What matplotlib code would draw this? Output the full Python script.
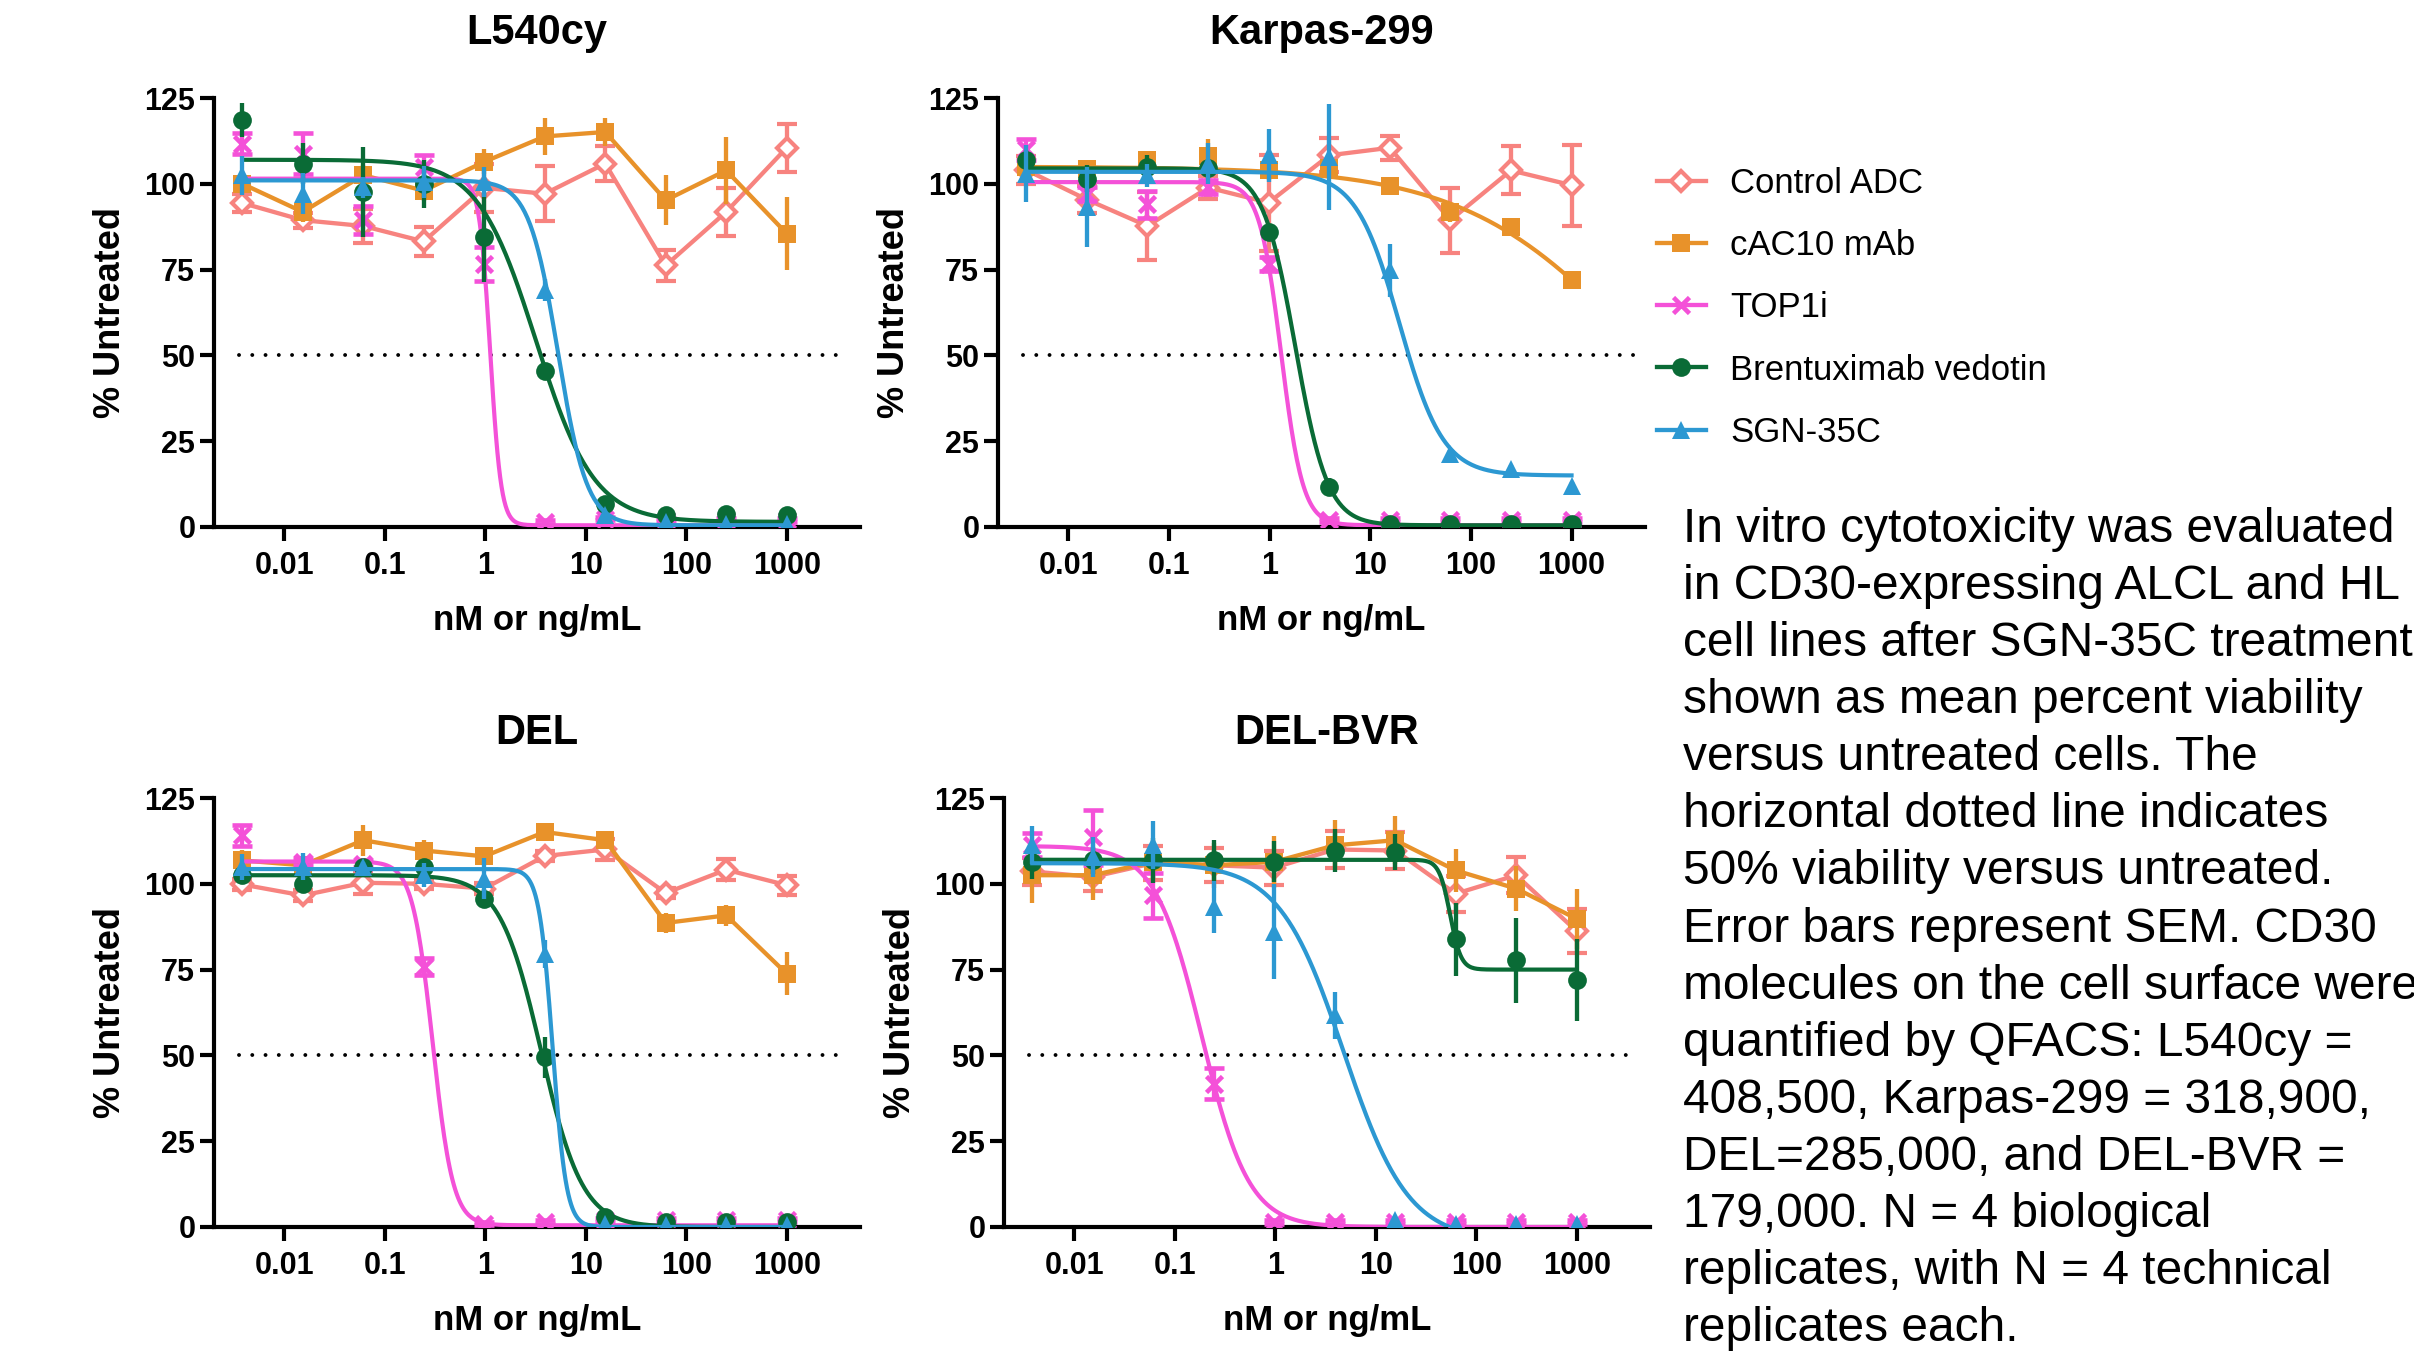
import numpy as np
import matplotlib
matplotlib.use('Agg')
import matplotlib.pyplot as plt
from matplotlib.lines import Line2D

plt.rcParams['font.family'] = ['Liberation Sans', 'DejaVu Sans']

# ---------------- data ----------------
conc = [0.003815, 0.01526, 0.06104, 0.2441, 0.9766, 3.906, 15.63, 62.5, 250.0, 1000.0]
x_tick_values = [0.01, 0.1, 1, 10, 100, 1000]
x_tick_labels = ['0.01', '0.1', '1', '10', '100', '1000']
y_tick_values = [0, 25, 50, 75, 100, 125]
threshold = 50

series_names = ['Control ADC', 'cAC10 mAb', 'TOP1i', 'Brentuximab vedotin', 'SGN-35C']
series_colors = ['#F7837F', '#E8922A', '#F451D8', '#0A6B36', '#2C98D2']
panel_titles = ['L540cy', 'Karpas-299', 'DEL', 'DEL-BVR']

# L540cy
l540_ctrl = [94.4, 89.4, 87.7, 83.2, 98.8, 97.1, 105.9, 76.2, 91.8, 110.5]
l540_ctrl_sem = [2.7, 2.2, 5.0, 4.3, 7.0, 8.0, 5.0, 4.4, 7.0, 7.0]
l540_cac10 = [100.0, 91.8, 102.5, 98.0, 106.4, 113.8, 115.1, 95.2, 103.9, 85.5]
l540_cac10_sem = [3.0, 3.0, 3.0, 3.0, 3.6, 5.4, 4.0, 7.3, 9.8, 10.7]
l540_top1i = [111.7, 108.8, 89.4, 104.9, 76.7, 1.5, 2.4, 2.0, 2.0, 2.0]
l540_top1i_sem = [3.0, 6.0, 4.0, 3.5, 5.0, 0.5, 0.5, 0.5, 0.5, 0.5]
l540_bv = [118.5, 105.9, 97.6, 100.0, 84.5, 45.6, 6.8, 3.4, 3.7, 3.4]
l540_bv_sem = [4.9, 6.0, 13.0, 7.0, 13.0, 1.0, 1.0, 0.5, 0.5, 0.5]
l540_sgn = [102.5, 97.1, 99.0, 100.5, 100.5, 69.0, 3.4, 1.5, 1.0, 1.0]
l540_sgn_sem = [5.7, 6.0, 3.0, 4.6, 4.4, 3.2, 0.5, 0.5, 0.5, 0.5]
# fitted 4PL parameters (top, bottom, IC50, hill); None = points joined by lines
l540_fits = [None, None, [101.5, 0.5, 1.12, 8.0], [107.0, 1.5, 3.2, 1.5], [101.0, 0.5, 5.3, 3.0]]

# Karpas-299
kar_ctrl = [104.0, 95.4, 87.7, 98.9, 94.5, 108.3, 110.5, 89.4, 103.9, 99.6]
kar_ctrl_sem = [4.0, 4.0, 10.0, 3.4, 14.0, 5.0, 3.5, 9.5, 7.0, 11.8]
kar_cac10 = [104.9, 104.4, 107.0, 108.0, 104.0, 104.5, 99.3, 91.8, 87.4, 71.9]
kar_cac10_sem = [2.0, 2.0, 2.5, 5.0, 3.0, 2.0, 1.0, 3.0, 1.5, 1.5]
kar_top1i = [110.0, 97.0, 94.0, 99.0, 76.7, 2.0, 2.0, 2.0, 2.0, 2.0]
kar_top1i_sem = [3.0, 2.0, 4.0, 2.0, 2.0, 0.5, 0.5, 0.5, 0.5, 0.5]
kar_bv = [106.8, 101.5, 104.9, 104.5, 86.0, 11.7, 1.0, 1.0, 1.0, 1.0]
kar_bv_sem = [3.0, 4.0, 3.5, 2.0, 2.0, 2.7, 0.5, 0.5, 0.5, 0.5]
kar_sgn = [103.0, 93.2, 102.5, 105.9, 108.3, 107.8, 74.8, 21.4, 17.0, 12.0]
kar_sgn_sem = [8.3, 11.7, 3.4, 6.0, 7.8, 15.5, 7.8, 1.0, 1.0, 1.0]
kar_fits = [None, [105.0, 0.0, 4770.0, 0.5], [100.5, 0.5, 1.3, 4.0], [104.5, 0.5, 1.8, 2.7], [103.5, 15.0, 19.5, 2.0]]

# DEL
del_ctrl = [99.8, 96.6, 100.3, 100.0, 98.6, 108.1, 110.0, 97.3, 104.1, 99.6]
del_ctrl_sem = [1.5, 1.5, 3.4, 1.5, 1.5, 1.5, 3.0, 1.5, 3.0, 2.8]
del_cac10 = [106.8, 105.4, 112.7, 109.7, 108.0, 115.1, 112.7, 88.6, 90.8, 73.8]
del_cac10_sem = [3.0, 2.0, 4.5, 3.0, 2.0, 2.5, 2.5, 3.0, 3.0, 6.2]
del_top1i = [114.1, 106.4, 105.9, 75.8, 1.0, 1.5, 2.0, 2.0, 2.0, 2.0]
del_top1i_sem = [3.0, 1.0, 1.0, 2.5, 0.5, 0.5, 0.5, 0.5, 0.5, 0.5]
del_bv = [102.5, 100.0, 104.9, 104.9, 95.7, 49.5, 2.9, 1.5, 1.5, 1.5]
del_bv_sem = [1.5, 2.0, 1.5, 1.5, 2.7, 6.0, 1.0, 0.5, 0.5, 0.5]
del_sgn = [104.9, 105.0, 104.9, 102.5, 101.5, 79.6, 1.0, 0.5, 0.7, 0.7]
del_sgn_sem = [3.8, 3.9, 1.5, 3.5, 6.0, 4.0, 0.5, 0.5, 0.5, 0.5]
del_fits = [None, None, [106.5, 0.5, 0.3, 4.3], [102.5, 0.0, 3.6, 2.1], [104.3, 0.0, 4.69, 6.4]]

# DEL-BVR
dbvr_ctrl = [103.6, 102.0, 106.0, 105.4, 104.7, 110.0, 109.7, 97.1, 102.5, 86.2]
dbvr_ctrl_sem = [4.0, 4.0, 5.0, 5.0, 5.0, 5.3, 5.3, 5.3, 5.3, 6.5]
dbvr_cac10 = [102.5, 102.5, 106.4, 105.4, 106.4, 111.2, 112.7, 103.9, 98.6, 89.8]
dbvr_cac10_sem = [8.0, 7.3, 5.0, 6.5, 7.6, 7.3, 7.0, 6.2, 6.5, 8.7]
dbvr_top1i = [111.2, 113.5, 96.6, 41.8, 1.5, 1.5, 1.5, 1.5, 1.5, 1.5]
dbvr_top1i_sem = [3.5, 8.0, 6.5, 4.4, 0.5, 0.5, 0.5, 0.5, 0.5, 0.5]
dbvr_bv = [106.4, 106.8, 106.8, 106.8, 106.4, 109.7, 109.3, 83.8, 77.7, 71.9]
dbvr_bv_sem = [5.0, 4.0, 6.5, 6.0, 6.0, 6.3, 5.3, 10.7, 12.4, 12.0]
dbvr_sgn = [111.2, 107.8, 111.2, 93.2, 86.0, 61.7, 2.1, 1.0, 1.0, 1.0]
dbvr_sgn_sem = [5.5, 5.8, 7.0, 7.5, 13.8, 6.8, 0.5, 0.5, 0.5, 0.5]
dbvr_fits = [None, None, [111.0, 0.0, 0.186, 1.85], [107.0, 75.0, 55.0, 8.0], [106.0, -4.0, 4.8, 1.35]]

caption = ("In vitro cytotoxicity was evaluated\n"
           "in CD30-expressing ALCL and HL\n"
           "cell lines after SGN-35C treatment\n"
           "shown as mean percent viability\n"
           "versus untreated cells. The\n"
           "horizontal dotted line indicates\n"
           "50% viability versus untreated.\n"
           "Error bars represent SEM. CD30\n"
           "molecules on the cell surface were\n"
           "quantified by QFACS: L540cy =\n"
           "408,500, Karpas-299 = 318,900,\n"
           "DEL=285,000, and DEL-BVR =\n"
           "179,000. N = 4 biological\n"
           "replicates, with N = 4 technical\n"
           "replicates each.")

panels = [
    (l540_ctrl, l540_ctrl_sem, l540_cac10, l540_cac10_sem, l540_top1i, l540_top1i_sem,
     l540_bv, l540_bv_sem, l540_sgn, l540_sgn_sem, l540_fits),
    (kar_ctrl, kar_ctrl_sem, kar_cac10, kar_cac10_sem, kar_top1i, kar_top1i_sem,
     kar_bv, kar_bv_sem, kar_sgn, kar_sgn_sem, kar_fits),
    (del_ctrl, del_ctrl_sem, del_cac10, del_cac10_sem, del_top1i, del_top1i_sem,
     del_bv, del_bv_sem, del_sgn, del_sgn_sem, del_fits),
    (dbvr_ctrl, dbvr_ctrl_sem, dbvr_cac10, dbvr_cac10_sem, dbvr_top1i, dbvr_top1i_sem,
     dbvr_bv, dbvr_bv_sem, dbvr_sgn, dbvr_sgn_sem, dbvr_fits),
]

# ---------------- styling ----------------
W, H = 2414, 1360
fig = plt.figure(figsize=(W / 100, H / 100), dpi=100)

# axes boxes in pixels: left, top, right, bottom
boxes = [(214, 98, 860, 527), (998, 98, 1645, 527),
         (214, 798, 860, 1227), (1004, 798, 1650, 1227)]

marker_styles = [
    dict(marker='D', ms=9.8, mfc='white', mew=3.0),
    dict(marker='s', ms=12.7, mew=0),
    dict(marker='x', ms=12, mew=3.3),
    dict(marker='o', ms=13.5, mew=0),
    dict(marker='^', ms=13.5, mew=0),
]

LW = 3.1      # connecting lines and error bars
LW_FIT = 3.0  # fitted curves
xfit = np.logspace(np.log10(conc[0]), np.log10(conc[-1]), 400)


def four_pl(x, p):
    top, bottom, ic50, hill = p
    return bottom + (top - bottom) / (1.0 + (x / ic50) ** hill)


for i, (box, title, pdata) in enumerate(zip(boxes, panel_titles, panels)):
    l, t, r, b = box
    ax = fig.add_axes([l / W, 1 - b / H, (r - l) / W, (b - t) / H])
    fits = pdata[10]
    for s in range(5):
        mean = pdata[2 * s]
        sem = pdata[2 * s + 1]
        col = series_colors[s]
        fit = fits[s]
        ms = marker_styles[s]
        ls = '-' if fit is None else 'none'
        ax.errorbar(conc, mean, yerr=sem, color=col, ecolor=col, lw=LW,
                    linestyle=ls, elinewidth=LW, capsize=7.5, capthick=LW,
                    marker=ms['marker'], ms=ms['ms'],
                    mfc=ms.get('mfc', col), mec=col, mew=ms['mew'],
                    zorder=3 + s)
        if fit is not None:
            ax.plot(xfit, four_pl(xfit, fit), color=col, lw=LW_FIT, zorder=3 + s)
    hl = ax.hlines(threshold, 0.0035, 4200, colors='black', lw=2.8,
                   linestyles=(0, (0.01, 3.4)), zorder=2)
    hl.set_capstyle('round')
    ax.set_xscale('log')
    ax.set_xlim(10 ** -2.70, 10 ** 3.73)
    ax.set_ylim(0, 125)
    ax.set_xticks(x_tick_values)
    ax.set_xticklabels(x_tick_labels)
    ax.xaxis.set_minor_locator(matplotlib.ticker.NullLocator())
    ax.set_yticks(y_tick_values)
    ax.spines['top'].set_visible(False)
    ax.spines['right'].set_visible(False)
    for sp in ('left', 'bottom'):
        ax.spines[sp].set_linewidth(3.0)
    ax.tick_params(axis='both', direction='out', length=10, width=3.0, labelsize=22)
    ax.tick_params(axis='x', pad=7)
    ax.tick_params(axis='y', pad=3.5)
    for lab in ax.get_xticklabels() + ax.get_yticklabels():
        lab.set_fontweight('bold')
    ax.set_xlabel('nM or ng/mL', fontsize=25, fontweight='bold', labelpad=17)
    ax.set_ylabel('% Untreated', fontsize=26, fontweight='bold', labelpad=12)
    ax.set_title(title, fontsize=30, fontweight='bold', pad=39)

# legend
handles = []
for s in range(5):
    ms = marker_styles[s]
    handles.append(Line2D([], [], color=series_colors[s], lw=LW, marker=ms['marker'],
                          ms=ms['ms'], mfc=ms.get('mfc', series_colors[s]),
                          mec=series_colors[s], mew=ms['mew']))
fig.legend(handles, series_names, loc='upper left', bbox_to_anchor=(1657 / W, 1 - 167 / H),
           frameon=False, fontsize=25, handlelength=1.4, handletextpad=0.7,
           labelspacing=0.84, borderpad=0, borderaxespad=0)

fig.text(1683 / W, 1 - 507 / H, caption, fontsize=34.5, ha='left', va='top', linespacing=1.345)

fig.savefig('out.png', dpi=100)
